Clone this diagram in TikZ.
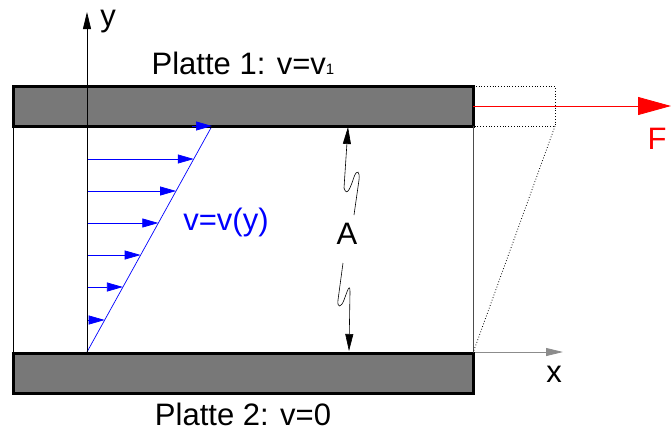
\documentclass[tikz,border=0pt]{standalone}
\usepackage{fontspec}
\setmainfont{Liberation Sans}
\usetikzlibrary{arrows.meta, positioning, calc}

\definecolor{plategray}{HTML}{787878}
\definecolor{flowblue}{HTML}{0000FF}
\definecolor{forcered}{HTML}{FF0000}

\begin{document}
\begin{tikzpicture}[
        x=1pt, y=-1pt,
        plate/.style={
            draw,
            line width=3pt,
            fill=plategray,
            inner sep=0pt,
            outer sep=0pt,
            minimum width=460pt,
            minimum height=40pt
        },
        txt/.style={
            inner sep=0pt,
            font=\fontsize{31}{36}\selectfont
        },
        axis/.style={
            -{Triangle[length=17pt, width=8pt]},
            line width=0.8pt
        },
        flow/.style={
            -{Triangle[length=16pt, width=9pt]},
            draw=flowblue!70, line width=0.7pt,
            color=flowblue
        },
        thin/.style={
            line width=0.8pt
        },
        ghost/.style={
            dotted, line width=0.8pt
        }
    ]

    \useasboundingbox (0,0) rectangle (671,432);

    % Origin and axes
    \coordinate (O) at (87,352);
    \coordinate (yend) at (87,12);
    \coordinate (xend) at (563,352);
    \draw[axis, black!45] (O) -- (xend);

    % Velocity profile
    \coordinate (vtop) at (212,126);
    \foreach \yy in {159,191,223,255,287,320} {
        \pgfmathsetmacro{\xx}{87+(352-\yy)*0.5531}
        \draw[flow] (87,\yy) -- (\xx,\yy);
    }
    \draw[draw=flowblue, line width=0.7pt] (O) -- (vtop);

    % Plates
    \node[plate] (top) at (243,106) {};
    \node[plate] (bottom) at (243,373) {};

    \draw[axis] (O) -- (yend);
    \draw[flow] (192,126) -- (vtop);

    % Fluid boundaries
    \draw[thin] (top.south west) -- (bottom.north west);
    \draw[thin, black!70] (top.south east) -- (bottom.north east);

    % Displaced plate
    \coordinate (shift) at (555,126);
    \draw[ghost] (top.north east) -- (555,86) -- (shift) -- (top.south east);
    \draw[ghost] (shift) -- (bottom.north east);

    % Force
    \coordinate (fend) at (671,106);
    \draw[-{Triangle[length=33pt, width=18pt]}, forcered, line width=0.8pt]
        (top.east) -- (fend);

    % Gap A with break marks
    \coordinate (Atop) at (348,127);
    \coordinate (Abot) at (349,351);
    \draw[axis, line width=0.6pt]
        (354,215) -- (359,180)
        .. controls (360,171) and (357,169) .. (354,177)
        .. controls (351,186) and (347,198) .. (344,188)
        -- (Atop);
    \draw[axis, line width=0.6pt]
        (343,263) -- (338,300)
        .. controls (337,308) and (341,308) .. (344,300)
        .. controls (347,292) and (350,282) .. (350,292)
        -- (Abot);

    % Labels
    \node[txt, above=11pt of top] (lab1) {Platte 1: v=v{\fontsize{15}{18}\selectfont 1}};
    \node[txt, below=10pt of bottom] (lab2) {Platte 2: v=0};
    \node[txt] (ylab) at (108,22) {y};
    \node[txt] (xlab) at (554,374) {x};
    \node[txt, forcered] (flab) at (657,139) {F};
    \node[txt] (alab) at (347,234) {A};
    \node[txt, flowblue] (vlab) at (226,222) {v=v(y)};

\end{tikzpicture}
\end{document}
